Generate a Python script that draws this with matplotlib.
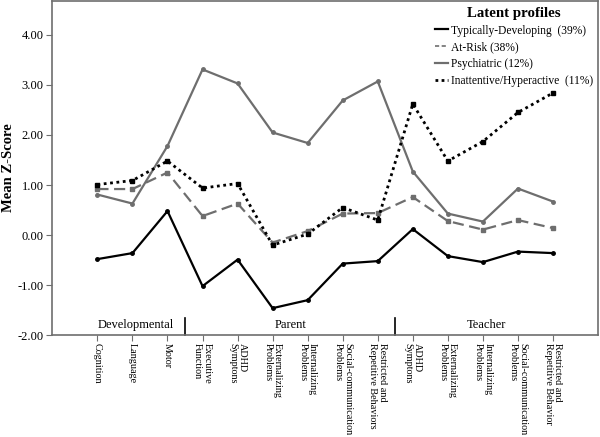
import matplotlib
matplotlib.use('Agg')
import matplotlib.pyplot as plt
from matplotlib.lines import Line2D

plt.rcParams['font.family'] = ['Liberation Serif', 'DejaVu Serif']

# 指标名称
labels = ['Cognition', 'Language', 'Motor',
          'Executive\nFunction', 'ADHD\nSymptons', 'Externalizing\nProblems',
          'Internalizing\nProblems', 'Social-communication\nProblems',
          'Restricted and\nRepetitive Behaviors',
          'ADHD\nSymptons', 'Externalizing\nProblems', 'Internalizing\nProblems',
          'Social-communication\nProblems', 'Restricted and\nRepetitive Behavior']

# 四个潜在剖面的平均Z分数
typical = [-0.48, -0.36, 0.48, -1.02, -0.49, -1.46, -1.30, -0.57, -0.52,
           0.12, -0.42, -0.54, -0.33, -0.36]
at_risk = [0.92, 0.92, 1.25, 0.38, 0.63, -0.15, 0.08, 0.43, 0.44,
           0.76, 0.28, 0.11, 0.30, 0.14]
psychiatric = [0.81, 0.63, 1.78, 3.31, 3.03, 2.05, 1.84, 2.69, 3.07,
               1.27, 0.43, 0.27, 0.93, 0.67]
inattentive = [1.01, 1.09, 1.48, 0.94, 1.03, -0.20, 0.02, 0.55, 0.30,
               2.62, 1.48, 1.87, 2.45, 2.84]

legend_names = ['Typically-Developing  (39%)', 'At-Risk (38%)',
                'Psychiatric (12%)', 'Inattentive/Hyperactive  (11%)']

# 信息来源分组
groups = ['Developmental', 'Parent', 'Teacher']
group_centers = [1.1, 5.5, 11.1]
group_dividers = [2.5, 8.5]

gray = '#6e6e6e'
x = list(range(len(labels)))

fig = plt.figure(figsize=(6, 4.37), dpi=100)
ax = fig.add_axes([0.087, 0.233, 0.91, 0.765])

ax.plot(x, psychiatric, color=gray, lw=1.6, marker='o', ms=2.5)
ax.plot(x, at_risk, color=gray, lw=1.6, ls=(0, (5, 2.5)), marker='s', ms=2.5)
ax.plot(x, inattentive, color='black', lw=2.0, ls=(0, (1, 1.3)), marker='s', ms=3)
ax.plot(x, typical, color='black', lw=1.6, marker='o', ms=2.5)

ax.set_xlim(-1.29, 14.29)
ax.set_ylim(-2, 4.68)
ax.set_yticks([-2, -1, 0, 1, 2, 3, 4])
ax.set_yticklabels(['%.2f' % v for v in [-2, -1, 0, 1, 2, 3, 4]], fontsize=9)
ax.set_xticks(x)
ax.set_xticklabels(labels, rotation=270, fontsize=7.3, ha='center', va='top',
                   multialignment='left', linespacing=1.1)
ax.tick_params(axis='both', direction='out', length=4, color=gray, pad=2)
ax.tick_params(axis='x', pad=1.5)
for s in ax.spines.values():
    s.set_color(gray)
    s.set_linewidth(1.2)

ax.set_ylabel('Mean Z-Score', fontsize=10.5, fontweight='bold', labelpad=2)

# 分组标签和分隔线
for name, cx in zip(groups, group_centers):
    ax.text(cx, -1.8, name, ha='center', va='center', fontsize=9)
for dx in group_dividers:
    ax.plot([dx, dx], [-1.66, -2.0], color='black', lw=1.2, clip_on=False)

handles = [Line2D([], [], color='black', lw=1.6),
           Line2D([], [], color=gray, lw=1.2, ls=(0, (2.5, 1.5))),
           Line2D([], [], color=gray, lw=1.6),
           Line2D([], [], color='black', lw=2.0, ls=(0, (1, 1.2)))]
leg = ax.legend(handles, legend_names, title='Latent profiles', loc='upper right',
                bbox_to_anchor=(0.997, 0.993), frameon=False, fontsize=8.3,
                handlelength=1.1, handletextpad=0.3, labelspacing=0.42,
                borderaxespad=0.1, borderpad=0.2)
leg.get_title().set_fontweight('bold')
leg.get_title().set_fontsize(10.7)

fig.savefig('out.png', dpi=100)
